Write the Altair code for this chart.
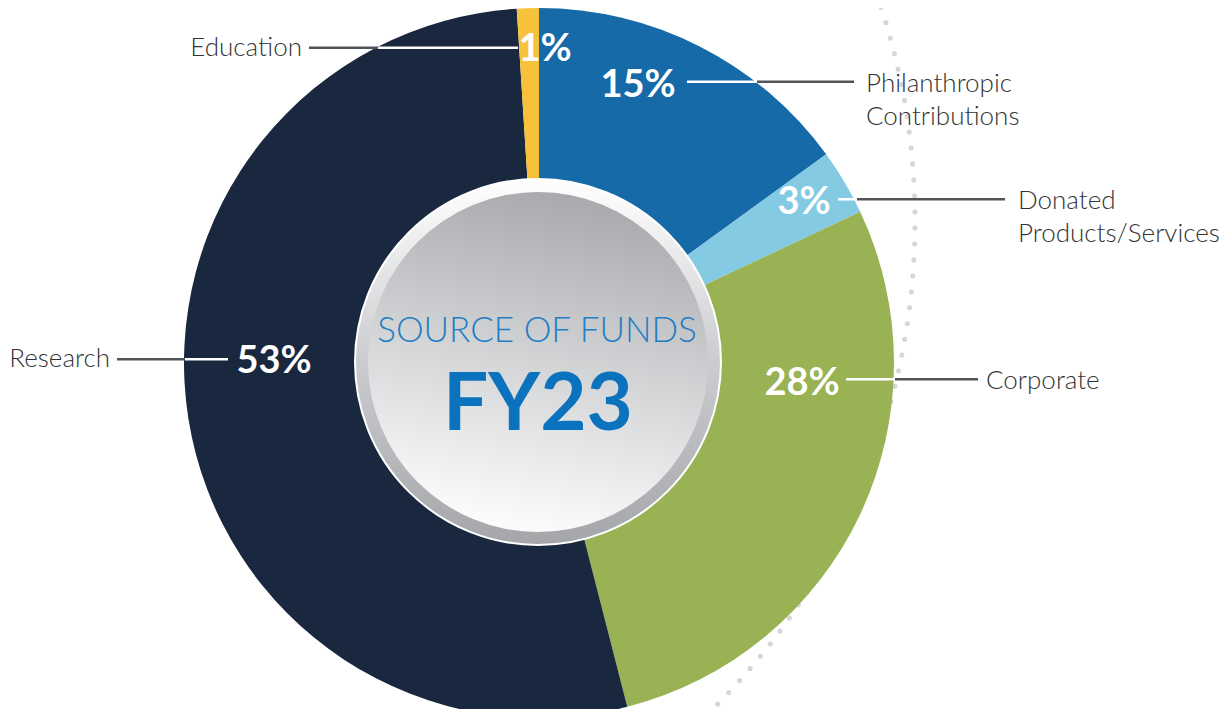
import altair as alt
import pandas as pd
import math

# ---------------- data ----------------
categories = ["Philanthropic Contributions", "Donated Products/Services",
              "Corporate", "Research", "Education"]
label_lines = ["Philanthropic\nContributions", "Donated\nProducts/Services",
               "Corporate", "Research", "Education"]
shares = [15, 3, 28, 53, 1]
colors = ["#176aa8", "#84cae3", "#98b254", "#19273f", "#f6c23b"]
center_title = "SOURCE OF FUNDS"
center_year = "FY23"

# ---------------- layout (pixels) ----------------
W, H = 1216, 701
CX, CY = 531, 355          # donut centre
R_OUT = 355
RING_CX, RING_CY = 530, 354
RING_R, DISC_R = 183, 170

pct_x = [630, 796, 794, 266, 537]
pct_y = [89, 206, 387, 365, 53]
lab_x = [858, 1010, 978, 102, 294]
lab_y = [84, 201, 381, 359, 48]
lab_align = ["left", "left", "left", "right", "right"]
lead_y = [73.7, 191.3, 371.3, 351.3, 39.7]
white_x = [(679, 749), (830, 849), (838, 887), (177, 220), (370, 510)]
dark_x = [(749, 846), (849, 997), (887, 970), (109, 177), (301, 370)]

FONT = "Lato"
LAB_SIZE = 26

donut_df = pd.DataFrame({"category": categories, "value": shares,
                         "idx": list(range(len(categories)))})
pct_df = pd.DataFrame({"t": [f"{v}%" for v in shares], "x": pct_x, "y": pct_y})
lab_df = pd.DataFrame({"t": label_lines, "x": lab_x, "y": lab_y, "al": lab_align})
white_df = pd.DataFrame({"x1": [a for a, b in white_x], "x2": [b for a, b in white_x], "y": lead_y})
dark_df = pd.DataFrame({"x1": [a for a, b in dark_x], "x2": [b for a, b in dark_x], "y": lead_y})
one = pd.DataFrame({"k": [0]})

X = lambda f: alt.X(f, scale=None, axis=None)
Y = lambda f: alt.Y(f, scale=None, axis=None)

# decorative dotted arc (behind the donut)
arc_len = 864.0
r_dot = 690
t1 = math.radians(68)
t2 = t1 + arc_len / r_dot
dotted = alt.Chart(one).mark_arc(
    theta=t1, theta2=t2, outerRadius=r_dot, innerRadius=r_dot,
    fill="#ffffff", fillOpacity=0, stroke="#d6d7d9", strokeWidth=5,
    strokeDash=[0, 16], strokeCap="round"
).encode(x=alt.value(217), y=alt.value(213))

donut = alt.Chart(donut_df).mark_arc(outerRadius=R_OUT, innerRadius=0).encode(
    theta=alt.Theta("value:Q", stack=True),
    color=alt.Color("category:N", scale=alt.Scale(domain=categories, range=colors), legend=None),
    order=alt.Order("idx:Q"),
    x=alt.value(CX), y=alt.value(CY),
)

ring_grad = alt.LinearGradient(
    gradient="linear",
    stops=[alt.GradientStop(color="#ffffff", offset=0),
           alt.GradientStop(color="#cbcccf", offset=0.5),
           alt.GradientStop(color="#a5a6a9", offset=1)],
    x1=0.5, x2=0.5, y1=0, y2=1)
disc_grad = alt.LinearGradient(
    gradient="linear",
    stops=[alt.GradientStop(color="#a8a9ac", offset=0),
           alt.GradientStop(color="#d3d4d6", offset=0.5),
           alt.GradientStop(color="#fdfdfd", offset=1)],
    x1=0.6, x2=0.4, y1=0, y2=1)

ring = alt.Chart(one).mark_arc(
    theta=0, theta2=2 * math.pi, outerRadius=RING_R, innerRadius=0,
    fill=ring_grad, stroke="#ffffff", strokeWidth=2
).encode(x=alt.value(RING_CX), y=alt.value(RING_CY))

disc = alt.Chart(one).mark_arc(
    theta=0, theta2=2 * math.pi, outerRadius=DISC_R, innerRadius=0,
    fill=disc_grad
).encode(x=alt.value(RING_CX), y=alt.value(RING_CY))

white_lines = alt.Chart(white_df).mark_rule(color="#ffffff", strokeWidth=2.5).encode(
    x=X("x1:Q"), x2="x2:Q", y=Y("y:Q"))
dark_lines = alt.Chart(dark_df).mark_rule(color="#50555a", strokeWidth=2.5).encode(
    x=X("x1:Q"), x2="x2:Q", y=Y("y:Q"))

pct_text = alt.Chart(pct_df).mark_text(
    font=FONT, fontSize=38, fontWeight="bold", color="#ffffff",
    align="center", baseline="alphabetic"
).encode(x=X("x:Q"), y=Y("y:Q"), text="t:N")

lab_left = alt.Chart(lab_df[lab_df.al == "left"]).mark_text(
    font=FONT, fontSize=LAB_SIZE, fontWeight=300, color="#333333",
    align="left", baseline="alphabetic", lineBreak="\n", lineHeight=33
).encode(x=X("x:Q"), y=Y("y:Q"), text="t:N")
lab_right = alt.Chart(lab_df[lab_df.al == "right"]).mark_text(
    font=FONT, fontSize=LAB_SIZE, fontWeight=300, color="#333333",
    align="right", baseline="alphabetic"
).encode(x=X("x:Q"), y=Y("y:Q"), text="t:N")

title_txt = alt.Chart(one).mark_text(
    text=center_title, font=FONT, fontSize=35, fontWeight=300, color="#1f7ec5",
    align="center", baseline="alphabetic"
).encode(x=alt.value(529), y=alt.value(334))
year_txt = alt.Chart(one).mark_text(
    text=center_year, font=FONT, fontSize=80, fontWeight="bold", color="#0b73be",
    align="center", baseline="alphabetic"
).encode(x=alt.value(530), y=alt.value(422))

chart = alt.layer(
    dotted, donut, ring, disc, white_lines, dark_lines,
    pct_text, lab_left, lab_right, title_txt, year_txt
).properties(
    width=W, height=H, autosize=alt.AutoSizeParams(type="none"), padding=0,
    background="#ffffff"
).configure_view(strokeWidth=0)

chart.save("out.html", embed_options={"renderer": "svg", "actions": False})
